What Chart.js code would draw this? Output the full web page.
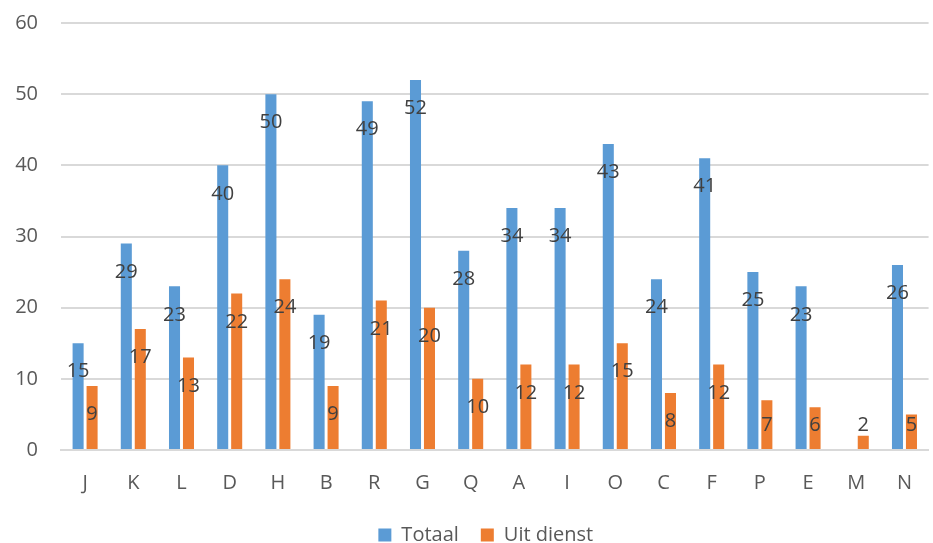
<!DOCTYPE html>
<html>
<head>
<meta charset="utf-8">
<script src="https://cdn.jsdelivr.net/npm/chart.js@4/dist/chart.umd.min.js"></script>
<style>
  html, body { margin: 0; padding: 0; background: #ffffff; }
  #wrap { width: 933px; height: 543px; position: relative; }
</style>
</head>
<body>
<div id="wrap"><canvas id="c" width="933" height="543"></canvas></div>
<script>
// Categories along the x axis
const categories = ['J', 'K', 'L', 'D', 'H', 'B', 'R', 'G', 'Q', 'A', 'I', 'O', 'C', 'F', 'P', 'E', 'M', 'N'];
// Series values
const totaal    = [15, 29, 23, 40, 50, 19, 49, 52, 28, 34, 34, 43, 24, 41, 25, 23, null, 26];
const uitDienst = [9, 17, 13, 22, 24, 9, 21, 20, 10, 12, 12, 15, 8, 12, 7, 6, 2, 5];
// Value axis ticks
const yTicks = [0, 10, 20, 30, 40, 50, 60];

const FONT = '"Open Sans", Lato, sans-serif';
const FONT_SIZE = 20;

// Value labels drawn inside the end of each bar
const barValueLabels = {
  id: 'barValueLabels',
  afterDatasetsDraw(chart) {
    const ctx = chart.ctx;
    const yScale = chart.scales.y;
    ctx.save();
    ctx.font = FONT_SIZE + 'px ' + FONT;
    ctx.fillStyle = '#404040';
    ctx.textAlign = 'center';
    ctx.textBaseline = 'middle';
    chart.data.datasets.forEach((ds, di) => {
      const meta = chart.getDatasetMeta(di);
      meta.data.forEach((bar, i) => {
        const v = ds.data[i];
        if (v === null || v === undefined) return;
        const y = Math.min(bar.y + 28.5, yScale.bottom - 24.5);
        ctx.fillText(String(v), bar.x, y);
      });
    });
    ctx.restore();
  }
};

// Centre the legend a little left of the plot area's middle
const legendShift = {
  id: 'legendShift',
  afterLayout(chart) {
    if (chart.legend) chart.legend.right -= 18;
  }
};

new Chart(document.getElementById('c'), {
  type: 'bar',
  data: {
    labels: categories,
    datasets: [
      { label: 'Totaal', data: totaal, backgroundColor: '#5b9bd5' },
      { label: 'Uit dienst', data: uitDienst, backgroundColor: '#ed7d31' }
    ]
  },
  options: {
    responsive: false,
    animation: false,
    devicePixelRatio: 1,
    categoryPercentage: 0.58,
    barPercentage: 0.79,
    layout: { padding: { top: 23, right: 0, left: 0, bottom: -12 } },
    plugins: {
      legend: {
        position: 'bottom',
        fullSize: false,
        labels: {
          font: { family: FONT, size: FONT_SIZE },
          color: '#595959',
          boxWidth: 13,
          boxHeight: 13,
          padding: 22,
          useBorderRadius: false
        }
      },
      tooltip: { enabled: false }
    },
    scales: {
      x: {
        grid: { display: false, drawTicks: false },
        border: { display: true, color: '#d9d9d9', width: 2 },
        ticks: {
          font: { family: FONT, size: FONT_SIZE },
          color: '#595959',
          padding: 21,
          maxRotation: 0
        },
        afterFit(scale) { scale.height = 53; }
      },
      y: {
        min: 0,
        max: 60,
        afterBuildTicks(scale) { scale.ticks = yTicks.map(v => ({ value: v })); },
        grid: { color: '#d9d9d9', lineWidth: 2, drawTicks: false },
        border: { display: false },
        ticks: {
          font: { family: FONT, size: FONT_SIZE },
          color: '#595959',
          padding: 23
        },
        afterFit(scale) {
          scale.width = 61;
          scale.paddingTop = 0;
          scale.paddingBottom = 0;
        }
      }
    }
  },
  plugins: [barValueLabels, legendShift]
});
</script>
</body>
</html>
